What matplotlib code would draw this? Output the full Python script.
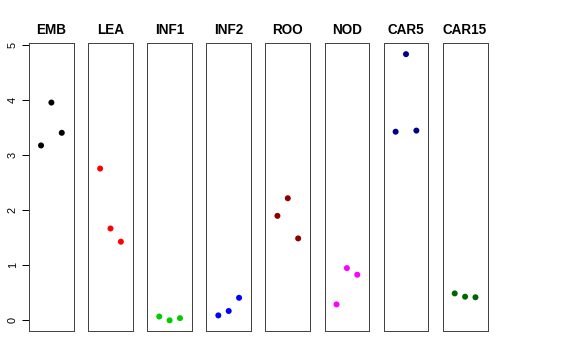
import matplotlib
matplotlib.use("Agg")
import matplotlib.pyplot as plt

plt.rcParams['font.family'] = ['Liberation Sans', 'DejaVu Sans']

groups = ["EMB", "LEA", "INF1", "INF2", "ROO", "NOD", "CAR5", "CAR15"]
colors = ["#000000", "#FF0000", "#00CD00", "#0000FF", "#8B0000", "#FF00FF", "#00008B", "#006400"]
values = {
    "EMB":   [3.18, 3.96, 3.41],
    "LEA":   [2.76, 1.67, 1.43],
    "INF1":  [0.07, 0.00, 0.04],
    "INF2":  [0.09, 0.17, 0.41],
    "ROO":   [1.90, 2.22, 1.49],
    "NOD":   [0.29, 0.95, 0.83],
    "CAR5":  [3.43, 4.84, 3.45],
    "CAR15": [0.49, 0.43, 0.42],
}
reps = [1, 2, 3]
yticks = [0, 1, 2, 3, 4, 5]

W, H = 576, 360
fig = plt.figure(figsize=(W / 72, H / 72), dpi=72)

allv = [v for g in groups for v in values[g]]
ymin, ymax = min(allv), max(allv)
pad = 0.04 * (ymax - ymin)

left0 = 29.0
step = 59.1
pw = 44.8
top, bottom = 43.5, 331.0
for i, g in enumerate(groups):
    x0 = left0 + i * step
    ax = fig.add_axes([x0 / W, 1 - bottom / H, pw / W, (bottom - top) / H])
    ax.scatter(reps, values[g], s=36, color=colors[i], edgecolors='none', zorder=3)
    ax.set_xlim(-0.16, 4.16)
    ax.set_ylim(ymin - pad, ymax + pad)
    ax.set_xticks([])
    for sp in ax.spines.values():
        sp.set_linewidth(1.0)
        sp.set_color('#444444')
    ax.set_title(g, fontsize=13.5, fontweight='bold', pad=9)
    if i == 0:
        ax.set_yticks(yticks)
        ax.set_yticklabels([str(t) for t in yticks], rotation=90, va='center', fontsize=11)
        ax.tick_params(axis='y', length=7, width=1, pad=4)
    else:
        ax.set_yticks([])

fig.savefig("out.png", dpi=72)
